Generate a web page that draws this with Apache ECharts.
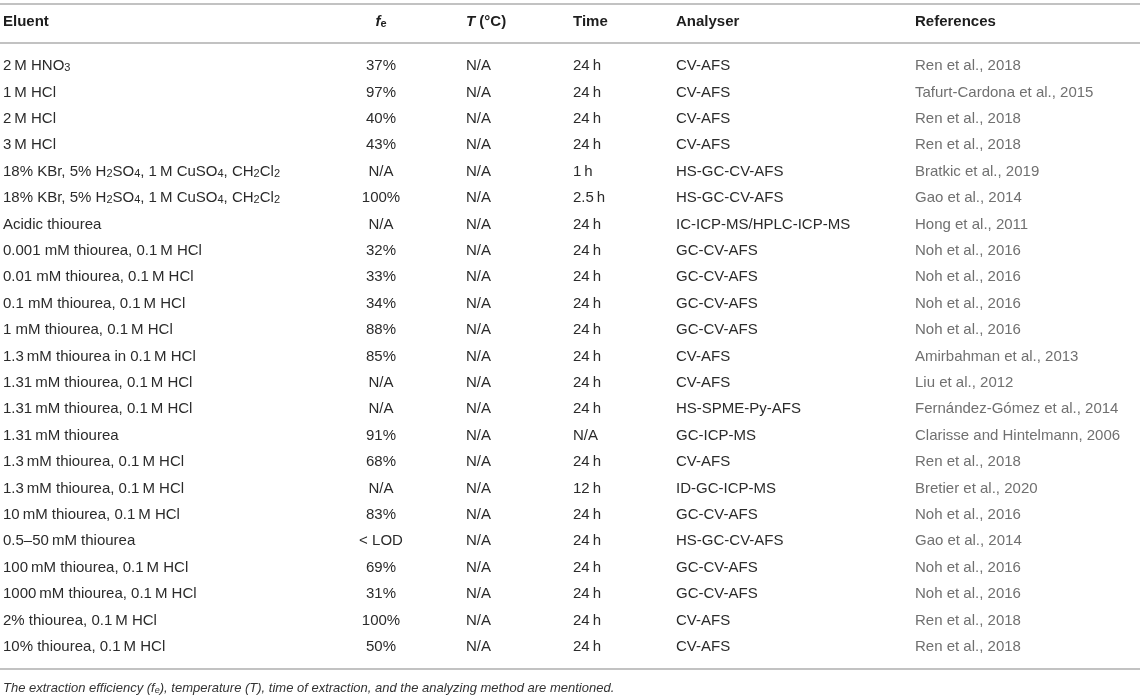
<!DOCTYPE html>
<html>
<head>
<meta charset="utf-8">
<script src="https://cdn.jsdelivr.net/npm/echarts@6/dist/echarts.min.js"></script>
<style>
  html, body { margin: 0; padding: 0; background: #fff; }
  #chart { width: 1143px; height: 696px; }
</style>
</head>
<body>
<div id="chart"></div>
<script>
// ---- data (rich-text markup {s|..} marks subscripts; \u2009 = thin space) ----
var headers = ['Eluent', '{fi|f}{fs|e}', '{ti|T} (°C)', 'Time', 'Analyser', 'References'];
var eluents = [
  '2\u2009M HNO{s|3}',
  '1\u2009M HCl',
  '2\u2009M HCl',
  '3\u2009M HCl',
  '18% KBr, 5% H{s|2}SO{s|4}, 1\u2009M CuSO{s|4}, CH{s|2}Cl{s|2}',
  '18% KBr, 5% H{s|2}SO{s|4}, 1\u2009M CuSO{s|4}, CH{s|2}Cl{s|2}',
  'Acidic thiourea',
  '0.001 mM thiourea, 0.1\u2009M HCl',
  '0.01 mM thiourea, 0.1\u2009M HCl',
  '0.1 mM thiourea, 0.1\u2009M HCl',
  '1 mM thiourea, 0.1\u2009M HCl',
  '1.3\u2009mM thiourea in 0.1\u2009M HCl',
  '1.31\u2009mM thiourea, 0.1\u2009M HCl',
  '1.31\u2009mM thiourea, 0.1\u2009M HCl',
  '1.31\u2009mM thiourea',
  '1.3\u2009mM thiourea, 0.1\u2009M HCl',
  '1.3\u2009mM thiourea, 0.1\u2009M HCl',
  '10\u2009mM thiourea, 0.1\u2009M HCl',
  '0.5–50\u2009mM thiourea',
  '100\u2009mM thiourea, 0.1\u2009M HCl',
  '1000\u2009mM thiourea, 0.1\u2009M HCl',
  '2% thiourea, 0.1\u2009M HCl',
  '10% thiourea, 0.1\u2009M HCl'
];
var efficiencies = ['37%', '97%', '40%', '43%', 'N/A', '100%', 'N/A', '32%', '33%', '34%', '88%', '85%',
  'N/A', 'N/A', '91%', '68%', 'N/A', '83%', '< LOD', '69%', '31%', '100%', '50%'];
var temperatures = ['N/A', 'N/A', 'N/A', 'N/A', 'N/A', 'N/A', 'N/A', 'N/A', 'N/A', 'N/A', 'N/A', 'N/A',
  'N/A', 'N/A', 'N/A', 'N/A', 'N/A', 'N/A', 'N/A', 'N/A', 'N/A', 'N/A', 'N/A'];
var times = ['24\u2009h', '24\u2009h', '24\u2009h', '24\u2009h', '1\u2009h', '2.5\u2009h', '24\u2009h', '24\u2009h',
  '24\u2009h', '24\u2009h', '24\u2009h', '24\u2009h', '24\u2009h', '24\u2009h', 'N/A', '24\u2009h', '12\u2009h',
  '24\u2009h', '24\u2009h', '24\u2009h', '24\u2009h', '24\u2009h', '24\u2009h'];
var analysers = ['CV-AFS', 'CV-AFS', 'CV-AFS', 'CV-AFS', 'HS-GC-CV-AFS', 'HS-GC-CV-AFS', 'IC-ICP-MS/HPLC-ICP-MS',
  'GC-CV-AFS', 'GC-CV-AFS', 'GC-CV-AFS', 'GC-CV-AFS', 'CV-AFS', 'CV-AFS', 'HS-SPME-Py-AFS', 'GC-ICP-MS',
  'CV-AFS', 'ID-GC-ICP-MS', 'GC-CV-AFS', 'HS-GC-CV-AFS', 'GC-CV-AFS', 'GC-CV-AFS', 'CV-AFS', 'CV-AFS'];
var references = ['Ren et al., 2018', 'Tafurt-Cardona et al., 2015', 'Ren et al., 2018', 'Ren et al., 2018',
  'Bratkic et al., 2019', 'Gao et al., 2014', 'Hong et al., 2011', 'Noh et al., 2016', 'Noh et al., 2016',
  'Noh et al., 2016', 'Noh et al., 2016', 'Amirbahman et al., 2013', 'Liu et al., 2012',
  'Fernández-Gómez et al., 2014', 'Clarisse and Hintelmann, 2006', 'Ren et al., 2018', 'Bretier et al., 2020',
  'Noh et al., 2016', 'Gao et al., 2014', 'Noh et al., 2016', 'Noh et al., 2016', 'Ren et al., 2018',
  'Ren et al., 2018'];
var footnote = 'The extraction efficiency (f{s|e}), temperature (T), time of extraction, and the analyzing method are mentioned.';

// ---- layout / style ----
var W = 1143, H = 696;
var FONT = '"Liberation Sans", Arial, Helvetica, sans-serif';
var FS = 15;
var colX = [3, 381, 466, 573, 676, 915];
var colAlign = ['left', 'center', 'left', 'left', 'left', 'left'];
var columns = [eluents, efficiencies, temperatures, times, analysers, references];
var colColor = ['#2b2b2b', '#2b2b2b', '#2b2b2b', '#2b2b2b', '#2b2b2b', '#707070'];
var rowCats = eluents.map(function (_, i) { return String(i); });

function makeRich(color, size, italic, bold) {
  var sub = Math.round(size * 0.72);
  return {
    s: { fontSize: sub, lineHeight: 8, verticalAlign: 'bottom', fill: color, color: color,
         fontFamily: FONT, fontStyle: italic ? 'italic' : 'normal', fontWeight: bold ? 'bold' : 'normal' },
    fi: { fontSize: size, fontFamily: FONT, fontStyle: 'italic', fontWeight: 'bold', fill: color, color: color },
    fs: { fontSize: sub, lineHeight: 8, verticalAlign: 'bottom', fontFamily: FONT, fontWeight: 'bold', fill: color, color: color },
    ti: { fontSize: size, fontFamily: FONT, fontStyle: 'italic', fontWeight: 'bold', fill: color, color: color }
  };
}

var chart = echarts.init(document.getElementById('chart'), null, { renderer: 'canvas' });

var ruleColor = '#c2c2c2';
var graphics = [
  { type: 'line', shape: { x1: 0, y1: 4, x2: 1140, y2: 4 }, style: { stroke: ruleColor, lineWidth: 2 } },
  { type: 'line', shape: { x1: 0, y1: 43, x2: 1140, y2: 43 }, style: { stroke: ruleColor, lineWidth: 2 } },
  { type: 'line', shape: { x1: 0, y1: 669, x2: 1140, y2: 669 }, style: { stroke: ruleColor, lineWidth: 2 } },
  { type: 'text', x: 3, y: 688, style: { text: footnote, fontSize: 13, fontFamily: FONT, fontStyle: 'italic',
      fill: '#333', align: 'left', verticalAlign: 'middle', rich: makeRich('#333', 13, true, false) } }
];
headers.forEach(function (h, c) {
  graphics.push({ type: 'text', x: colX[c], y: 22, style: {
    text: h, fontSize: FS, fontWeight: 'bold', fontFamily: FONT, fill: '#1e1e1e',
    align: colAlign[c], verticalAlign: 'middle', rich: makeRich('#1e1e1e', FS, false, true) } });
});

chart.setOption({
  animation: false,
  backgroundColor: '#fff',
  grid: { left: 0, right: 0, top: 52.8, bottom: 36, containLabel: false },
  xAxis: { type: 'value', min: 0, max: W, show: false },
  yAxis: { type: 'category', data: rowCats, inverse: true, show: false },
  graphic: graphics,
  series: [{
    type: 'custom',
    coordinateSystem: 'cartesian2d',
    data: rowCats.map(function (r, i) { return [0, i]; }),
    encode: { x: 0, y: 1 },
    renderItem: function (params, api) {
      var row = api.value(1);
      var children = columns.map(function (col, c) {
        var p = api.coord([colX[c], row]);
        return {
          type: 'text', x: p[0], y: p[1],
          style: {
            text: col[row], fontSize: FS, fontFamily: FONT, fill: colColor[c],
            align: colAlign[c], verticalAlign: 'middle',
            rich: makeRich(colColor[c], FS, false, false)
          }
        };
      });
      return { type: 'group', children: children };
    }
  }]
});
</script>
</body>
</html>
